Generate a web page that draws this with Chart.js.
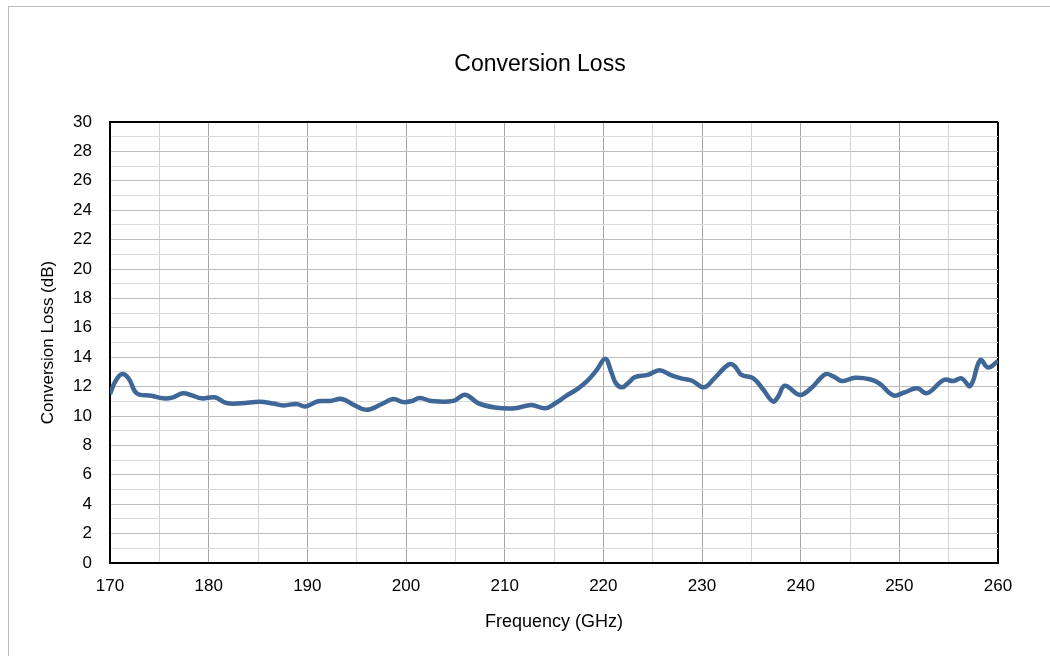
<!DOCTYPE html>
<html>
<head>
<meta charset="utf-8">
<script src="https://cdn.jsdelivr.net/npm/chart.js@4.4.1/dist/chart.umd.min.js"></script>
<style>
    body { margin: 0; background: #fff; }
    #frame {
        position: absolute;
        left: 8px;
        top: 6px;
        width: 1042px;
        height: 650px;
        border-top: 1px solid #bdbdbd;
        border-left: 1px solid #bdbdbd;
    }
    #wrap { position: absolute; left: 0; top: 0; }
    #title {
        position: absolute;
        left: 0;
        top: 51px;
        width: 1080px;
        text-align: center;
        font-family: "Liberation Sans", Arial, sans-serif;
        font-size: 23px;
        line-height: 24px;
        color: #000;
    }
</style>
</head>
<body>
<div id="frame"></div>
<div id="wrap"><canvas id="myChart" width="1050" height="656"></canvas></div>
<div id="title">Conversion Loss</div>
<script>
// frequency in GHz, conversion loss in dB
const freq = [
    170, 170.5, 171.2, 171.9, 172.7, 174.2, 175.4, 176.3, 177.4, 178.3,
    179.3, 180.6, 181.8, 183.3, 185.2, 186.5, 187.6, 188.9, 189.8, 191.1,
    192.3, 193.5, 194.8, 196.0, 197.5, 198.7, 199.7, 200.5, 201.4, 202.6,
    204.8, 206.0, 207.3, 209.0, 211.0, 212.7, 214.1, 215.1, 216.2, 217.5,
    218.4, 219.3, 220.2, 220.8, 221.3, 221.9, 222.6, 223.2, 224.5, 225.7,
    226.8, 227.9, 229.0, 230.2, 231.3, 232.7, 233.3, 234.0, 235.2, 236.2,
    237.2, 237.7, 238.4, 239.9, 241.0, 242.5, 243.3, 244.2, 245.5, 247.0,
    248.0, 249.4, 250.5, 251.8, 252.8, 254.5, 255.5, 256.3, 257.2, 258.2,
    259.0, 260
];
const loss = [
    11.5, 12.3, 12.85, 12.55, 11.55, 11.38, 11.2, 11.25, 11.55, 11.4,
    11.2, 11.27, 10.88, 10.86, 10.97, 10.85, 10.72, 10.82, 10.65, 11.0,
    11.02, 11.16, 10.72, 10.42, 10.8, 11.15, 10.95, 11.0, 11.22, 11.02,
    11.03, 11.45, 10.88, 10.58, 10.52, 10.75, 10.52, 10.85, 11.35, 11.9,
    12.4, 13.1, 13.9, 13.0, 12.2, 11.95, 12.3, 12.65, 12.8, 13.12,
    12.8, 12.56, 12.4, 11.95, 12.6, 13.5, 13.4, 12.8, 12.56, 11.8,
    10.98, 11.3, 12.06, 11.43, 11.85, 12.84, 12.7, 12.38, 12.6, 12.5,
    12.2, 11.4, 11.6, 11.88, 11.55, 12.45, 12.38, 12.56, 12.05, 13.8,
    13.3, 13.74
];

const xMin = 170;
const xMax = 260;
const yMin = 0;
const yMax = 30;

const points = [];
for (let i = 0; i < freq.length; i++) {
    points.push({ x: freq[i], y: loss[i] });
}

const fontName = '"Liberation Sans", Arial, sans-serif';

var ctx = document.getElementById('myChart').getContext('2d');
var myChart = new Chart(ctx, { // eslint-disable-line
    type: 'line',
    data: {
        datasets: [
            {
                label: 'Conversion Loss',
                data: points,
                borderColor: '#3e6696',
                borderWidth: 4.5,
                pointRadius: 0,
                tension: 0.4,
                fill: false
            }
        ]
    },
    options: {
        responsive: false,
        animation: false,
        layout: {
            padding: { left: 0, right: 52, top: 122, bottom: 0 }
        },
        plugins: {
            legend: { display: false },
            tooltip: { enabled: false },
            title: { display: false }
        },
        scales: {
            x: {
                type: 'linear',
                min: xMin,
                max: xMax,
                afterFit: (scale) => { scale.height = 93; },
                ticks: {
                    stepSize: 5,
                    autoSkip: false,
                    maxRotation: 0,
                    padding: 13,
                    color: '#000',
                    font: { family: fontName, size: 17 },
                    callback: (v) => (v % 10 === 0 ? v : '')
                },
                grid: {
                    drawTicks: false,
                    color: (c) => {
                        const v = c.tick.value;
                        if (v === xMax) return '#000';
                        return v % 10 === 0 ? '#a6a6a6' : '#d4d4d4';
                    },
                    lineWidth: (c) => (c.tick.value === xMax ? 2 : 1)
                },
                border: { color: '#000', width: 2 },
                title: {
                    display: true,
                    text: 'Frequency (GHz)',
                    color: '#000',
                    font: { family: fontName, size: 18 },
                    padding: { top: 0, bottom: 23 }
                }
            },
            y: {
                min: yMin,
                max: yMax,
                afterFit: (scale) => { scale.width = 110; },
                ticks: {
                    stepSize: 1,
                    autoSkip: false,
                    padding: 18,
                    color: '#000',
                    font: { family: fontName, size: 17 },
                    callback: (v) => (v % 2 === 0 ? v : '')
                },
                grid: {
                    drawTicks: false,
                    color: (c) => {
                        const v = c.tick.value;
                        if (v === yMax) return '#000';
                        return v % 2 === 0 ? '#bdbdbd' : '#dadada';
                    },
                    lineWidth: (c) => (c.tick.value === yMax ? 2 : 1)
                },
                border: { color: '#000', width: 2 },
                title: {
                    display: true,
                    text: 'Conversion Loss (dB)',
                    color: '#000',
                    font: { family: fontName, size: 17 },
                    padding: { top: 38, bottom: 0 }
                }
            }
        }
    }
});
</script>
</body>
</html>
